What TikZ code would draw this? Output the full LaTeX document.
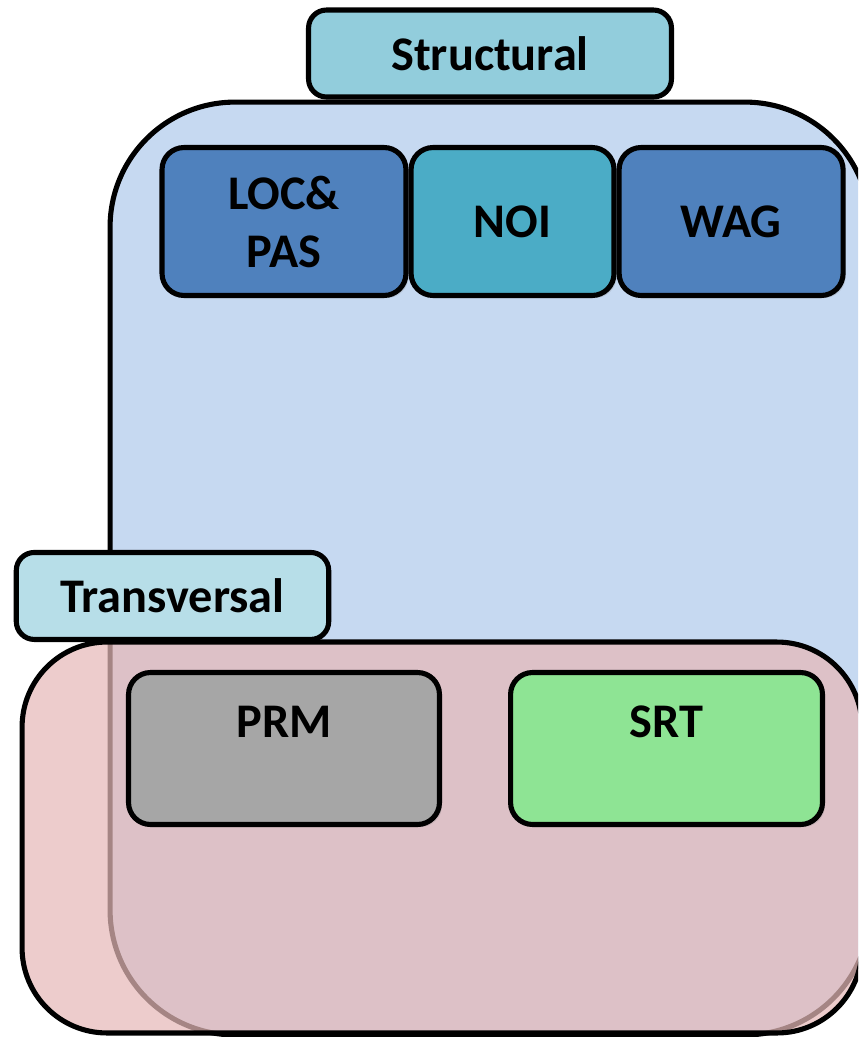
\documentclass[tikz,border=0pt]{standalone}
\usepackage{fontspec}
\setmainfont{Carlito}
\usepackage{tikz}
\usetikzlibrary{positioning,shadows}
\definecolor{groupblue}{HTML}{C6D9F1}
\definecolor{grouppink}{HTML}{E6B9B8}
\definecolor{tabstruct}{HTML}{92CDDC}
\definecolor{tabtrans}{HTML}{B7DEE8}
\definecolor{cellblue}{HTML}{4F81BD}
\definecolor{cellteal}{HTML}{4BACC6}
\definecolor{cellgrey}{HTML}{A6A6A6}
\definecolor{cellgreen}{HTML}{8EE494}

\begin{document}
\begin{tikzpicture}[x=0.02cm, y=-0.02cm]
\tikzstyle{group}=[rectangle, draw=black, line width=2.9pt, rounded corners=2.5cm, inner sep=0pt]
\tikzstyle{tab}=[rectangle, draw=black, line width=2.9pt, rounded corners=0.36cm, minimum height=1.74cm, font=\fontsize{27.5}{33}\selectfont\bfseries]
\tikzstyle{cell}=[tab, rounded corners=0.44cm, minimum height=2.96cm, align=center, drop shadow={opacity=0.25, shadow xshift=1.5pt, shadow yshift=-1.5pt}]
\tikzstyle{lowcell}=[cell, inner sep=0pt, minimum height=3.04cm, text height=1.29cm, text depth=1.75cm]

  \useasboundingbox (0,0) rectangle (858,1037);
  \clip (0,0) rectangle (858,1037);

  % structural group
  \node[group, fill=groupblue, minimum width=15.2cm, minimum height=18.66cm] (structbox) at (490,568.5) {};
  \node[tab, fill=tabstruct, minimum width=7.26cm, anchor=south] (structural) at (structbox.north) {Structural};

  \node[cell, fill=cellblue, minimum width=4.88cm] (locpas) at (284,221.5) {LOC\&\\PAS};
  \node[cell, fill=cellteal, minimum width=4.06cm, right=0pt of locpas] (noi) {NOI};
  \node[cell, fill=cellblue, minimum width=4.48cm, right=0pt of noi]    (wag) {WAG};

  % transversal group
  \node[group, fill=grouppink, fill opacity=0.72, rounded corners=1.7cm, minimum width=16.8cm, minimum height=7.82cm] (transbox) at (442,837.5) {};
  \node[tab, fill=tabtrans, minimum width=6.25cm, anchor=south] (transversal) at (172.5,642) {Transversal};

  \node[lowcell, fill=cellgrey, minimum width=6.22cm] (prm) at (284,748.5) {PRM};
  \node[lowcell, fill=cellgreen, minimum width=6.24cm, right=1.32cm of prm] (srt) {SRT};

\end{tikzpicture}
\end{document}
